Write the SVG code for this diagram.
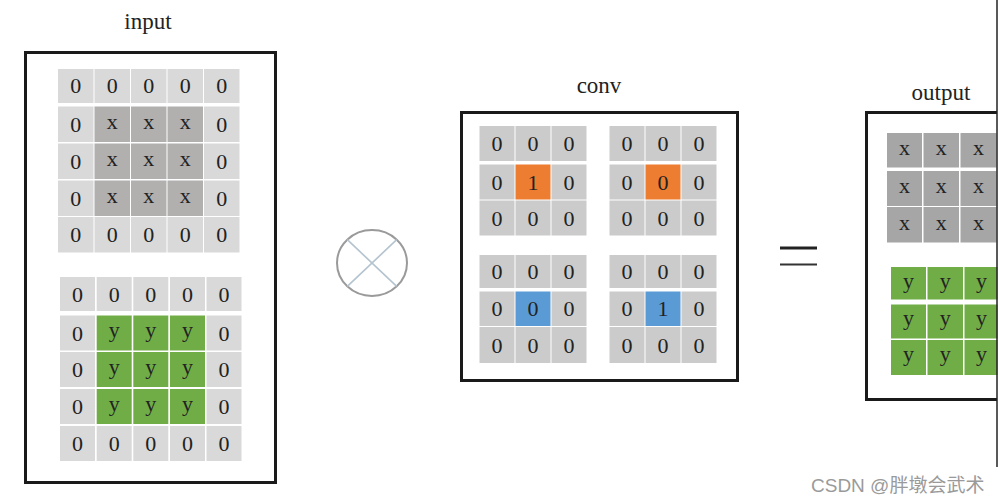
<svg xmlns="http://www.w3.org/2000/svg" width="998" height="503" viewBox="0 0 998 503">
<style>
.z{fill:#d9d9d9}
.cz{fill:#cbcbcb}
.gx{fill:#b2afaf}
.ox{fill:#a6a6a6}
.gy{fill:#70ad47}
.or{fill:#ed7d31}
.bl{fill:#5b9bd5}
text{font-family:"Liberation Serif","DejaVu Serif",serif;fill:#222;text-anchor:middle}
.d{font-size:22px}
.t{font-size:23px}
.box{fill:none;stroke:#1a1a1a;stroke-width:3}
.wm{font-family:"Liberation Sans","Noto Sans CJK SC",sans-serif;font-size:19px;fill:#9a9a9a;text-anchor:start}
</style>
<rect width="998" height="503" fill="#fff"/>

<g id="input">
<text class="t" x="148" y="29">input</text>
<rect class="box" x="25.5" y="52.5" width="250" height="430"/>
<g id="input-x">
<rect class="z" x="58" y="69" width="35.5" height="34"/><rect class="z" x="94.5" y="69" width="35.5" height="34"/><rect class="z" x="131" y="69" width="35.5" height="34"/><rect class="z" x="167.5" y="69" width="35.5" height="34"/><rect class="z" x="204" y="69" width="35.5" height="34"/>
<rect class="z" x="58" y="106.5" width="35.5" height="35.5"/><rect class="gx" x="94.5" y="106.5" width="35.5" height="35.5"/><rect class="gx" x="131" y="106.5" width="35.5" height="35.5"/><rect class="gx" x="167.5" y="106.5" width="35.5" height="35.5"/><rect class="z" x="204" y="106.5" width="35.5" height="35.5"/>
<rect class="z" x="58" y="143.5" width="35.5" height="35.5"/><rect class="gx" x="94.5" y="143.5" width="35.5" height="35.5"/><rect class="gx" x="131" y="143.5" width="35.5" height="35.5"/><rect class="gx" x="167.5" y="143.5" width="35.5" height="35.5"/><rect class="z" x="204" y="143.5" width="35.5" height="35.5"/>
<rect class="z" x="58" y="180.5" width="35.5" height="35.5"/><rect class="gx" x="94.5" y="180.5" width="35.5" height="35.5"/><rect class="gx" x="131" y="180.5" width="35.5" height="35.5"/><rect class="gx" x="167.5" y="180.5" width="35.5" height="35.5"/><rect class="z" x="204" y="180.5" width="35.5" height="35.5"/>
<rect class="z" x="58" y="217" width="35.5" height="35.5"/><rect class="z" x="94.5" y="217" width="35.5" height="35.5"/><rect class="z" x="131" y="217" width="35.5" height="35.5"/><rect class="z" x="167.5" y="217" width="35.5" height="35.5"/><rect class="z" x="204" y="217" width="35.5" height="35.5"/>
<text class="d" x="75.7" y="93">0</text><text class="d" x="112.2" y="93">0</text><text class="d" x="148.7" y="93">0</text><text class="d" x="185.2" y="93">0</text><text class="d" x="221.7" y="93">0</text>
<text class="d" x="75.7" y="131.5">0</text><text class="d" x="112.2" y="129">x</text><text class="d" x="148.7" y="129">x</text><text class="d" x="185.2" y="129">x</text><text class="d" x="221.7" y="131.5">0</text>
<text class="d" x="75.7" y="168.5">0</text><text class="d" x="112.2" y="166">x</text><text class="d" x="148.7" y="166">x</text><text class="d" x="185.2" y="166">x</text><text class="d" x="221.7" y="168.5">0</text>
<text class="d" x="75.7" y="205.5">0</text><text class="d" x="112.2" y="203">x</text><text class="d" x="148.7" y="203">x</text><text class="d" x="185.2" y="203">x</text><text class="d" x="221.7" y="205.5">0</text>
<text class="d" x="75.7" y="242">0</text><text class="d" x="112.2" y="242">0</text><text class="d" x="148.7" y="242">0</text><text class="d" x="185.2" y="242">0</text><text class="d" x="221.7" y="242">0</text>
</g>
<g id="input-y">
<rect class="z" x="60" y="277" width="35" height="34"/><rect class="z" x="96.7" y="277" width="35" height="34"/><rect class="z" x="133.3" y="277" width="35" height="34"/><rect class="z" x="170" y="277" width="35" height="34"/><rect class="z" x="206.5" y="277" width="35" height="34"/>
<rect class="z" x="60" y="315.5" width="35" height="35"/><rect class="gy" x="96.7" y="315.5" width="35" height="35"/><rect class="gy" x="133.3" y="315.5" width="35" height="35"/><rect class="gy" x="170" y="315.5" width="35" height="35"/><rect class="z" x="206.5" y="315.5" width="35" height="35"/>
<rect class="z" x="60" y="352" width="35" height="35"/><rect class="gy" x="96.7" y="352" width="35" height="35"/><rect class="gy" x="133.3" y="352" width="35" height="35"/><rect class="gy" x="170" y="352" width="35" height="35"/><rect class="z" x="206.5" y="352" width="35" height="35"/>
<rect class="z" x="60" y="389" width="35" height="35"/><rect class="gy" x="96.7" y="389" width="35" height="35"/><rect class="gy" x="133.3" y="389" width="35" height="35"/><rect class="gy" x="170" y="389" width="35" height="35"/><rect class="z" x="206.5" y="389" width="35" height="35"/>
<rect class="z" x="60" y="426" width="35" height="35"/><rect class="z" x="96.7" y="426" width="35" height="35"/><rect class="z" x="133.3" y="426" width="35" height="35"/><rect class="z" x="170" y="426" width="35" height="35"/><rect class="z" x="206.5" y="426" width="35" height="35"/>
<text class="d" x="77.5" y="301.5">0</text><text class="d" x="114.2" y="301.5">0</text><text class="d" x="150.8" y="301.5">0</text><text class="d" x="187.5" y="301.5">0</text><text class="d" x="224" y="301.5">0</text>
<text class="d" x="77.5" y="340.5">0</text><text class="d" x="114.2" y="337">y</text><text class="d" x="150.8" y="337">y</text><text class="d" x="187.5" y="337">y</text><text class="d" x="224" y="340.5">0</text>
<text class="d" x="77.5" y="377">0</text><text class="d" x="114.2" y="374">y</text><text class="d" x="150.8" y="374">y</text><text class="d" x="187.5" y="374">y</text><text class="d" x="224" y="377">0</text>
<text class="d" x="77.5" y="414">0</text><text class="d" x="114.2" y="411">y</text><text class="d" x="150.8" y="411">y</text><text class="d" x="187.5" y="411">y</text><text class="d" x="224" y="414">0</text>
<text class="d" x="77.5" y="451">0</text><text class="d" x="114.2" y="451">0</text><text class="d" x="150.8" y="451">0</text><text class="d" x="187.5" y="451">0</text><text class="d" x="224" y="451">0</text>
</g>
</g>

<g id="times">
<ellipse cx="372" cy="263" rx="35" ry="33" fill="none" stroke="#9a9a9a" stroke-width="2"/>
<line x1="347.3" y1="239.7" x2="396.7" y2="286.3" stroke="#b3c3cf" stroke-width="1.6"/>
<line x1="396.7" y1="239.7" x2="347.3" y2="286.3" stroke="#b3c3cf" stroke-width="1.6"/>
</g>

<g id="conv">
<text class="t" x="599" y="93">conv</text>
<rect class="box" x="461.5" y="112.5" width="276" height="268"/>
<g id="k1">
<rect class="cz" x="479.5" y="126" width="35" height="35"/><rect class="cz" x="515.5" y="126" width="35" height="35"/><rect class="cz" x="551.5" y="126" width="35" height="35"/>
<rect class="cz" x="479.5" y="164.5" width="35" height="35"/><rect class="or" x="515.5" y="164.5" width="35" height="35"/><rect class="cz" x="551.5" y="164.5" width="35" height="35"/>
<rect class="cz" x="479.5" y="200.5" width="35" height="35"/><rect class="cz" x="515.5" y="200.5" width="35" height="35"/><rect class="cz" x="551.5" y="200.5" width="35" height="35"/>
<text class="d" x="497" y="151">0</text><text class="d" x="533" y="151">0</text><text class="d" x="569" y="151">0</text>
<text class="d" x="497" y="189.5">0</text><text class="d" x="533" y="189.5">1</text><text class="d" x="569" y="189.5">0</text>
<text class="d" x="497" y="225.5">0</text><text class="d" x="533" y="225.5">0</text><text class="d" x="569" y="225.5">0</text>
</g>
<g id="k2">
<rect class="cz" x="609.5" y="126" width="35" height="35"/><rect class="cz" x="645.5" y="126" width="35" height="35"/><rect class="cz" x="681.5" y="126" width="35" height="35"/>
<rect class="cz" x="609.5" y="164.5" width="35" height="35"/><rect class="or" x="645.5" y="164.5" width="35" height="35"/><rect class="cz" x="681.5" y="164.5" width="35" height="35"/>
<rect class="cz" x="609.5" y="200.5" width="35" height="35"/><rect class="cz" x="645.5" y="200.5" width="35" height="35"/><rect class="cz" x="681.5" y="200.5" width="35" height="35"/>
<text class="d" x="627" y="151">0</text><text class="d" x="663" y="151">0</text><text class="d" x="699" y="151">0</text>
<text class="d" x="627" y="189.5">0</text><text class="d" x="663" y="189.5">0</text><text class="d" x="699" y="189.5">0</text>
<text class="d" x="627" y="225.5">0</text><text class="d" x="663" y="225.5">0</text><text class="d" x="699" y="225.5">0</text>
</g>
<g id="k3">
<rect class="cz" x="479.5" y="255" width="35" height="33"/><rect class="cz" x="515.5" y="255" width="35" height="33"/><rect class="cz" x="551.5" y="255" width="35" height="33"/>
<rect class="cz" x="479.5" y="291.5" width="35" height="34.5"/><rect class="bl" x="515.5" y="291.5" width="35" height="34.5"/><rect class="cz" x="551.5" y="291.5" width="35" height="34.5"/>
<rect class="cz" x="479.5" y="327" width="35" height="36"/><rect class="cz" x="515.5" y="327" width="35" height="36"/><rect class="cz" x="551.5" y="327" width="35" height="36"/>
<text class="d" x="497" y="279">0</text><text class="d" x="533" y="279">0</text><text class="d" x="569" y="279">0</text>
<text class="d" x="497" y="316">0</text><text class="d" x="533" y="316">0</text><text class="d" x="569" y="316">0</text>
<text class="d" x="497" y="352.5">0</text><text class="d" x="533" y="352.5">0</text><text class="d" x="569" y="352.5">0</text>
</g>
<g id="k4">
<rect class="cz" x="609.5" y="255" width="35" height="33"/><rect class="cz" x="645.5" y="255" width="35" height="33"/><rect class="cz" x="681.5" y="255" width="35" height="33"/>
<rect class="cz" x="609.5" y="291.5" width="35" height="34.5"/><rect class="bl" x="645.5" y="291.5" width="35" height="34.5"/><rect class="cz" x="681.5" y="291.5" width="35" height="34.5"/>
<rect class="cz" x="609.5" y="327" width="35" height="36"/><rect class="cz" x="645.5" y="327" width="35" height="36"/><rect class="cz" x="681.5" y="327" width="35" height="36"/>
<text class="d" x="627" y="279">0</text><text class="d" x="663" y="279">0</text><text class="d" x="699" y="279">0</text>
<text class="d" x="627" y="316">0</text><text class="d" x="663" y="316">1</text><text class="d" x="699" y="316">0</text>
<text class="d" x="627" y="352.5">0</text><text class="d" x="663" y="352.5">0</text><text class="d" x="699" y="352.5">0</text>
</g>
</g>

<g id="equals">
<rect x="780" y="246.5" width="37" height="3" fill="#222"/>
<rect x="780" y="263.5" width="37" height="2" fill="#333"/>
</g>

<g id="output">
<text class="t" x="941" y="100">output</text>
<path class="box" d="M997,112.5 H866.5 V399.5 H997"/>
<g id="output-x">
<rect class="ox" x="887" y="133" width="35" height="34.5"/><rect class="ox" x="923.5" y="133" width="35.5" height="34.5"/><rect class="ox" x="960.5" y="133" width="36" height="34.5"/>
<rect class="ox" x="887" y="171" width="35" height="35"/><rect class="ox" x="923.5" y="171" width="35.5" height="35"/><rect class="ox" x="960.5" y="171" width="36" height="35"/>
<rect class="ox" x="887" y="207" width="35" height="35.5"/><rect class="ox" x="923.5" y="207" width="35.5" height="35.5"/><rect class="ox" x="960.5" y="207" width="36" height="35.5"/>
<text class="d" x="904.5" y="155">x</text><text class="d" x="941.2" y="155">x</text><text class="d" x="978.5" y="155">x</text>
<text class="d" x="904.5" y="193">x</text><text class="d" x="941.2" y="193">x</text><text class="d" x="978.5" y="193">x</text>
<text class="d" x="904.5" y="229.5">x</text><text class="d" x="941.2" y="229.5">x</text><text class="d" x="978.5" y="229.5">x</text>
</g>
<g id="output-y">
<rect class="gy" x="891" y="267" width="35" height="32.5"/><rect class="gy" x="927.5" y="267" width="35.5" height="32.5"/><rect class="gy" x="964.5" y="267" width="33" height="32.5"/>
<rect class="gy" x="891" y="304.5" width="35" height="34"/><rect class="gy" x="927.5" y="304.5" width="35.5" height="34"/><rect class="gy" x="964.5" y="304.5" width="33" height="34"/>
<rect class="gy" x="891" y="340" width="35" height="35"/><rect class="gy" x="927.5" y="340" width="35.5" height="35"/><rect class="gy" x="964.5" y="340" width="33" height="35"/>
<text class="d" x="908.5" y="287.5">y</text><text class="d" x="945.2" y="287.5">y</text><text class="d" x="981.5" y="287.5">y</text>
<text class="d" x="908.5" y="325">y</text><text class="d" x="945.2" y="325">y</text><text class="d" x="981.5" y="325">y</text>
<text class="d" x="908.5" y="361">y</text><text class="d" x="945.2" y="361">y</text><text class="d" x="981.5" y="361">y</text>
</g>
</g>
<line x1="997" y1="0" x2="997" y2="467" stroke="#222" stroke-width="1.5"/>
<text class="wm" x="811" y="492">CSDN @胖墩会武术</text>
</svg>
